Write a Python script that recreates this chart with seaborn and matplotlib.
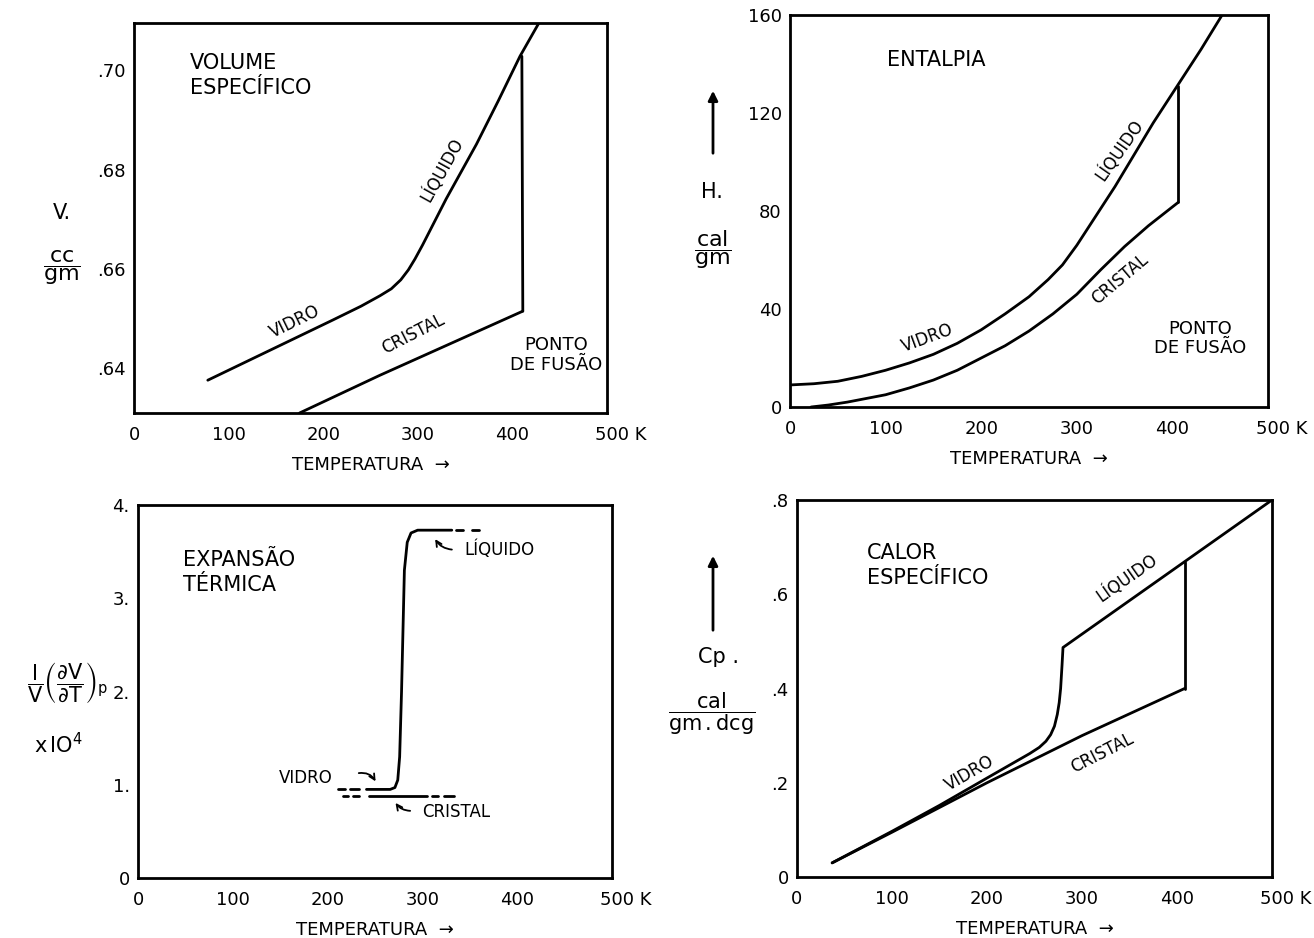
import numpy as np
import pandas as pd
import seaborn as sns
import matplotlib.pyplot as plt
from matplotlib.transforms import ScaledTranslation

# temperature axis shared by all four panels
temp_ticks = [0, 100, 200, 300, 400, 500]
temp_labels = ['0', '100', '200', '300', '400', '500 K']

# volume especifico (cc/gm)
vol_vidro_t = [78, 150, 210, 240, 260, 272, 282, 290, 297, 305, 330, 362, 385, 408, 428]
vol_vidro_v = [0.6376, 0.6442, 0.6497, 0.6525, 0.6546, 0.6560, 0.6578, 0.6598, 0.6620,
               0.6648, 0.6741, 0.6851, 0.6938, 0.7028, 0.7095]
vol_cristal_t = [175, 260, 411]
vol_cristal_v = [0.631, 0.6386, 0.6515]
vol_fusao_t = [411, 410]
vol_fusao_v = [0.6515, 0.7028]

# entalpia (cal/gm)
ent_vidro_t = [0, 25, 50, 75, 100, 125, 150, 175, 200, 225, 250, 270, 285, 300,
               320, 340, 360, 380, 405, 430, 452]
ent_vidro_h = [9, 9.5, 10.5, 12.5, 15, 18, 21.5, 26, 31.5, 38, 45, 52, 58, 66,
               78, 90, 103, 116, 131, 146, 160]
ent_cristal_t = [22, 40, 60, 80, 100, 125, 150, 175, 200, 225, 250, 275, 300,
                 325, 350, 375, 406]
ent_cristal_h = [0, 0.8, 2, 3.5, 5, 7.8, 11, 15, 20, 25, 31, 38, 46,
                 56, 65.5, 74, 83.5]
ent_fusao_t = [406, 406]
ent_fusao_h = [83.5, 131]

# expansao termica (x 10^4)
exp_vidro_t = [241, 266, 271, 274, 276, 278, 281, 284, 288, 295, 331]
exp_vidro_a = [0.95, 0.95, 0.97, 1.05, 1.3, 2.0, 3.3, 3.6, 3.7, 3.73, 3.73]
exp_vidro_tr_t = [[211, 218], [224, 233]]
exp_liq_tr_t = [[335, 343], [352, 360]]
exp_cristal_t = [244, 305]
exp_cristal_tr_t = [[216, 222], [227, 233], [310, 316], [323, 333]]
exp_vidro_nivel = 0.95
exp_liq_nivel = 3.73
exp_cristal_nivel = 0.88

# calor especifico (cal/gm.deg)
cp_vidro_t = [37, 100, 150, 200, 245, 255, 262, 267, 271, 274, 276, 277.5, 279, 280, 500]
cp_vidro_c = [0.03, 0.097, 0.152, 0.21, 0.262, 0.275, 0.288, 0.302, 0.32, 0.345,
              0.37, 0.40, 0.45, 0.487, 0.80]
cp_cristal_t = [37, 100, 200, 300, 408]
cp_cristal_c = [0.03, 0.095, 0.20, 0.30, 0.40]
cp_fusao_t = [408, 408]
cp_fusao_c = [0.40, 0.669]

sns.set_theme(style='white')
plt.rcParams['font.family'] = ['DejaVu Sans']

W, H = 1314, 938
fig = plt.figure(figsize=(W / 100, H / 100), dpi=100)


def px_axes(l, t, r, b):
    return fig.add_axes([l / W, 1 - b / H, (r - l) / W, (b - t) / H])


def curve(ax, x, y, ls='-'):
    sns.lineplot(x=x, y=y, ax=ax, sort=False, estimator=None,
                 color='black', lw=2.0, linestyle=ls)


def frame(ax, ylim, yticks, ylabels):
    ax.set_xlim(0, 500)
    ax.set_ylim(*ylim)
    ax.set_xticks(temp_ticks)
    ax.set_xticklabels(temp_labels)
    ax.set_yticks(yticks)
    ax.set_yticklabels(ylabels)
    for s in ax.spines.values():
        s.set_linewidth(2)
        s.set_color('black')
    ax.tick_params(direction='in', length=9, width=1.5, labelsize=13,
                   pad=9, colors='black')
    ax.tick_params(axis='y', length=5, pad=6)
    lab = ax.get_xticklabels()[-1]
    lab.set_transform(lab.get_transform() + ScaledTranslation(10 / 72, 0, fig.dpi_scale_trans))
    ax.set_xlabel('TEMPERATURA  →', fontsize=13, labelpad=9, color='black')
    ax.set_ylabel('')


def figtext(x, y, s, **kw):
    kw.setdefault('fontsize', 15)
    fig.text(x / W, 1 - y / H, s, ha='center', va='center', color='black', **kw)


def up_arrow(x, y0, y1):
    fig.add_artist(plt.matplotlib.patches.FancyArrowPatch(
        (x / W, 1 - y0 / H), (x / W, 1 - y1 / H), transform=fig.transFigure,
        arrowstyle='-|>', mutation_scale=14, lw=2, color='black'))


lbl = dict(fontsize=12, ha='center', va='center', color='black', rotation_mode='anchor')
title = dict(fontsize=15, ha='left', va='top', color='black', linespacing=1.3)
arrow = dict(arrowstyle='->', color='black', lw=1.3, mutation_scale=10)

# --- volume especifico ---
ax1 = px_axes(134, 23, 607, 413)
curve(ax1, vol_vidro_t, vol_vidro_v)
curve(ax1, vol_cristal_t, vol_cristal_v)
curve(ax1, vol_fusao_t, vol_fusao_v)
frame(ax1, (0.631, 0.7095), [0.64, 0.66, 0.68, 0.70], ['.64', '.66', '.68', '.70'])
ax1.text(59, 0.7035, 'VOLUME\nESPECÍFICO', **title)
ax1.text(326, 0.6799, 'LÍQUIDO', rotation=61, **lbl)
ax1.text(170, 0.6493, 'VIDRO', rotation=26, **lbl)
ax1.text(295, 0.6468, 'CRISTAL', rotation=27, **lbl)
ax1.text(446, 0.6427, 'PONTO\nDE FUSÃO', fontsize=13, ha='center', va='center',
         color='black', linespacing=1.1)
figtext(62, 213, 'V.')
figtext(62, 268, r'$\dfrac{\mathrm{cc}}{\mathrm{gm}}$', fontsize=16)

# --- entalpia ---
ax2 = px_axes(790, 15, 1268, 407)
curve(ax2, ent_vidro_t, ent_vidro_h)
curve(ax2, ent_cristal_t, ent_cristal_h)
curve(ax2, ent_fusao_t, ent_fusao_h)
frame(ax2, (0, 160), [0, 40, 80, 120, 160], ['0', '40', '80', '120', '160'])
ax2.text(153, 141.6, 'ENTALPIA', fontsize=15, ha='center', va='center', color='black')
ax2.text(345, 105, 'LÍQUIDO', rotation=55, **lbl)
ax2.text(144, 28, 'VIDRO', rotation=20, **lbl)
ax2.text(345, 52, 'CRISTAL', rotation=40, **lbl)
ax2.text(429, 28, 'PONTO\nDE FUSÃO', fontsize=13, ha='center', va='center',
         color='black', linespacing=1.1)
up_arrow(713, 156, 88)
figtext(712, 192, 'H.')
figtext(713, 250, r'$\dfrac{\mathrm{cal}}{\mathrm{gm}}$', fontsize=16)

# --- expansao termica ---
ax3 = px_axes(138, 505, 612, 878)
curve(ax3, exp_vidro_t, exp_vidro_a)
for seg in exp_vidro_tr_t:
    curve(ax3, seg, [exp_vidro_nivel] * 2)
for seg in exp_liq_tr_t:
    curve(ax3, seg, [exp_liq_nivel] * 2)
curve(ax3, exp_cristal_t, [exp_cristal_nivel] * 2)
for seg in exp_cristal_tr_t:
    curve(ax3, seg, [exp_cristal_nivel] * 2)
frame(ax3, (0, 4), [0, 1, 2, 3, 4], ['0', '1.', '2.', '3.', '4.'])
ax3.text(47, 3.52, 'EXPANSÃO\nTÉRMICA', **title)
ax3.text(177, 1.07, 'VIDRO', fontsize=12, ha='center', va='center', color='black')
ax3.annotate('', xy=(252, 1.01), xytext=(230, 1.12),
             arrowprops=dict(connectionstyle='arc3,rad=-0.4', **arrow))
ax3.text(344, 3.52, 'LÍQUIDO', fontsize=12, ha='left', va='center', color='black')
ax3.annotate('', xy=(312, 3.66), xytext=(334, 3.52),
             arrowprops=dict(connectionstyle='arc3,rad=-0.3', **arrow))
ax3.text(300, 0.71, 'CRISTAL', fontsize=12, ha='left', va='center', color='black')
ax3.annotate('', xy=(270, 0.83), xytext=(290, 0.72),
             arrowprops=dict(connectionstyle='arc3,rad=-0.3', **arrow))
figtext(68, 683, r'$\dfrac{\mathrm{I}}{\mathrm{V}}\left(\dfrac{\partial\mathrm{V}}{\partial\mathrm{T}}\right)_{\mathrm{p}}$',
        fontsize=15)
figtext(58, 745, r'x$\,$IO$^4$', fontsize=15)

# --- calor especifico ---
ax4 = px_axes(797, 500, 1272, 877)
curve(ax4, cp_vidro_t, cp_vidro_c)
curve(ax4, cp_cristal_t, cp_cristal_c)
curve(ax4, cp_fusao_t, cp_fusao_c)
frame(ax4, (0, 0.8), [0, 0.2, 0.4, 0.6, 0.8], ['0', '.2', '.4', '.6', '.8'])
ax4.text(74, 0.709, 'CALOR\nESPECÍFICO', **title)
ax4.text(182, 0.22, 'VIDRO', rotation=30, **lbl)
ax4.text(347, 0.635, 'LÍQUIDO', rotation=35, **lbl)
ax4.text(321, 0.263, 'CRISTAL', rotation=27, **lbl)
up_arrow(713, 633, 553)
figtext(718, 657, 'Cp .')
figtext(712, 714, r'$\dfrac{\mathrm{cal}}{\mathrm{gm\,.dcg}}$', fontsize=15)

fig.savefig('out.png', dpi=100, facecolor='white')
